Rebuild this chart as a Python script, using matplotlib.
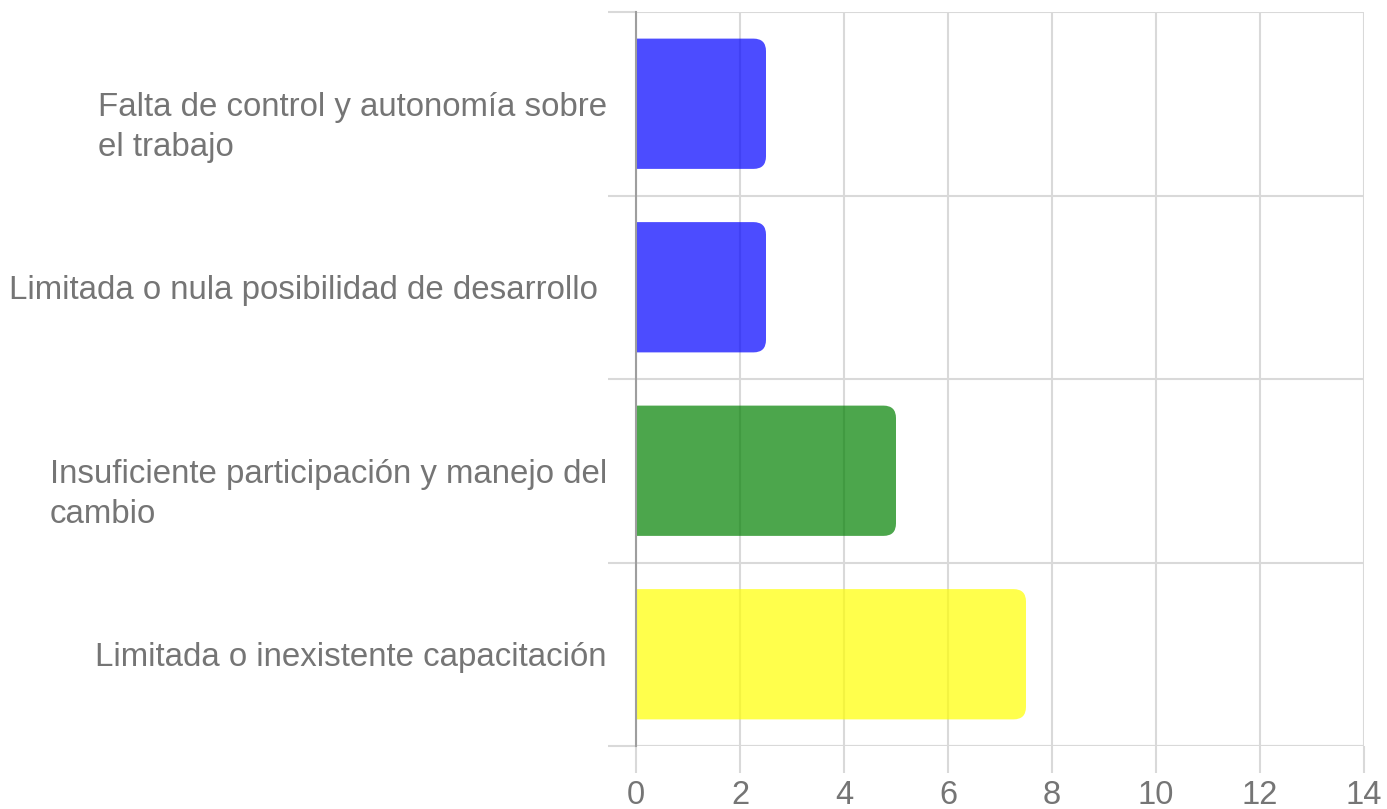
import matplotlib
matplotlib.use("Agg")
import matplotlib.pyplot as plt
from matplotlib.patches import FancyBboxPatch, Rectangle
from matplotlib.transforms import ScaledTranslation

categories = [
    "Falta de control y autonomía sobre\nel trabajo",
    "Limitada o nula posibilidad de desarrollo ",
    "Insuficiente participación y manejo del\ncambio",
    "Limitada o inexistente capacitación",
]
values = [2.5, 2.5, 5, 7.5]
colors = ["#0000ff", "#0000ff", "#008000", "#ffff00"]
xticks = [0, 2, 4, 6, 8, 10, 12, 14]

GRID, ZERO, TXT = "#d9d9d9", "#9e9e9e", "#757575"
plt.rcParams["font.family"] = ["Liberation Sans", "DejaVu Sans"]

fig = plt.figure(figsize=(13.87, 8.09), dpi=100)
ax = fig.add_axes([636 / 1387, 1 - 746 / 809, 728 / 1387, 734 / 809])

n = len(categories)
ypos = list(range(n))
ax.set_xlim(0, 14)
ax.set_ylim(n - 0.5, -0.5)

# bars: take geometry from barh, then redraw with rounded right end
bars = ax.barh(ypos, values, height=0.71, color=colors)
rad_x = 0.24
aspect = (52 / 183)
clip = Rectangle((0, -1), 20, n + 2, transform=ax.transData)
for b, c in zip(bars, colors):
    x0, y0, w, h = b.get_x(), b.get_y(), b.get_width(), b.get_height()
    b.remove()
    p = FancyBboxPatch((x0 - 0.5, y0), w + 0.5, h,
                       boxstyle=f"round,pad=0,rounding_size={rad_x}",
                       mutation_aspect=aspect, fc=c, ec="none", alpha=0.7,
                       zorder=2)
    ax.add_patch(p)
    p.set_clip_path(clip)

ax.set_axisbelow(True)
# row separators extend left past the axis as tick marks
ax.set_yticks([y - 0.5 for y in range(n + 1)])
ax.set_yticklabels([])
ax.set_yticks(ypos, minor=True)
ax.set_yticklabels(categories, minor=True, fontsize=23.8, color=TXT,
                   multialignment="left", linespacing=1.35)
ax.tick_params(axis="y", which="major", length=20.5, width=1.5, color=GRID)
ax.tick_params(axis="y", which="minor", length=0, pad=21)
ax.grid(axis="y", which="major", color=GRID, lw=1.5)

# wrapped labels: first line sits roughly on the row centre
for lbl in ax.get_yticklabels(minor=True):
    extra = lbl.get_text().count("\n")
    if extra:
        lbl.set_transform(lbl.get_transform() + ScaledTranslation(
            0, -0.16 * extra, fig.dpi_scale_trans))

ax.set_xticks(xticks)
ax.set_xticklabels([str(t) for t in xticks], fontsize=23.5, color=TXT)
ax.tick_params(axis="x", length=19.5, width=1.5, color=GRID, pad=5)
ax.grid(axis="x", color=GRID, lw=1.5)

for s in ("top", "right", "bottom"):
    ax.spines[s].set_visible(False)
ax.spines["left"].set_color(ZERO)
ax.spines["left"].set_linewidth(1.5)
ax.spines["left"].set_zorder(3)
ax.axhline(n - 0.5, color=GRID, lw=1.5, xmin=0, xmax=1, zorder=0)

fig.savefig("out.png", dpi=100, facecolor="white")
